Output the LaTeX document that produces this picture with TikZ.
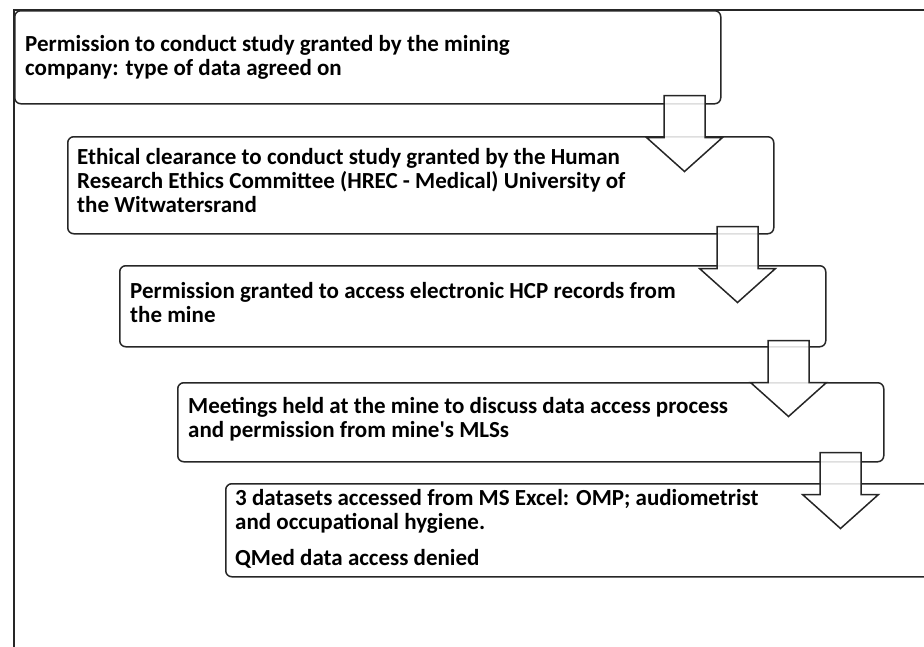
\documentclass[tikz,border=0pt]{standalone}
\usepackage{fontspec}
\setmainfont{Carlito}
\begin{document}
\begin{tikzpicture}[x=1pt,y=-1pt,
    stepbox/.style={draw=black!85,line width=1.5pt,rounded corners=6pt,
      minimum width=706pt,inner sep=0pt,anchor=north west},
    steptext/.style={align=left,inner sep=0pt,anchor=north west,
      font=\fontsize{23}{24}\selectfont\bfseries},
    flowarrow/.pic={
      \draw[draw=black!85,line width=1.5pt,fill=white,fill opacity=0.85]
        (-20.5,0) -- (20.5,0) -- (20.5,42) -- (38,42) -- (0,76)
        -- (-38,42) -- (-20.5,42) -- cycle;
    }]
  \useasboundingbox (0,0) rectangle (924,646);
  % outer frame
  \draw[draw=black!85,line width=1.5pt] (14,660) -- (14,10) -- (940,10);
  % steps
  \node[stepbox,minimum height=93pt] (s1) at (14,10) {};
  \node[stepbox,minimum height=97pt] (s2) at (67,136) {};
  \node[stepbox,minimum height=81pt] (s3) at (119,265) {};
  \node[stepbox,minimum height=79pt] (s4) at (177,382) {};
  \node[stepbox,minimum height=93pt] (s5) at (225,483) {};
  \node[steptext] (t1) at ([xshift=11pt,yshift=-25pt]s1.north west)
    {Permission to conduct study granted by the mining\\
     company: type of data agreed on};
  \node[steptext] (t2) at ([xshift=10pt,yshift=-12pt]s2.north west)
    {Ethical clearance to conduct study granted by the Human\\
     Research Ethics Committee (HREC - Medical) University of\\
     the Witwatersrand};
  \node[steptext] (t3) at ([xshift=11pt,yshift=-17pt]s3.north west)
    {Permission granted to access electronic HCP records from\\
     the mine};
  \node[steptext] (t4) at ([xshift=11pt,yshift=-15pt]s4.north west)
    {Meetings held at the mine to discuss data access process\\
     and permission from mine\textquotesingle s MLSs};
  \node[steptext] (t5) at ([xshift=10pt,yshift=-6pt]s5.north west)
    {3 datasets accessed from MS Excel: OMP; audiometrist\\
     and occupational hygiene.\\[12pt]
     QMed data access denied};
  % arrows between steps
  \coordinate (a1) at ([xshift=-37pt,yshift=9pt]s1.south east);
  \coordinate (a2) at ([xshift=-37pt,yshift=8pt]s2.south east);
  \coordinate (a3) at ([xshift=-38pt,yshift=7pt]s3.south east);
  \coordinate (a4) at ([xshift=-44pt,yshift=10pt]s4.south east);
  \foreach \a in {a1,a2,a3,a4}
    \pic at (\a) {flowarrow};
\end{tikzpicture}
\end{document}
